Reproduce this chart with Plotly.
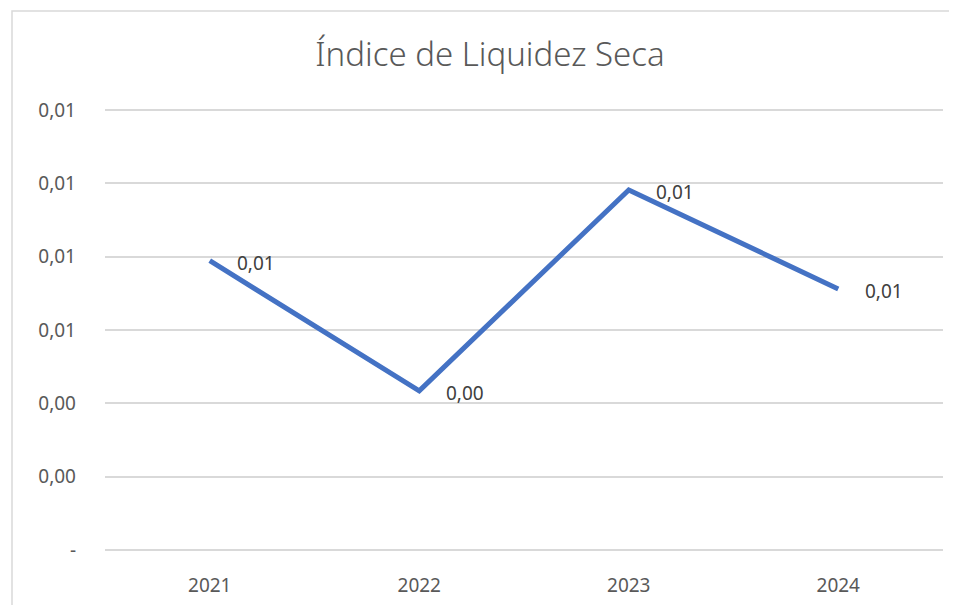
import plotly.graph_objects as go

years = ["2021", "2022", "2023", "2024"]
values = [0.00789, 0.00434, 0.00982, 0.00712]
value_labels = ["0,01", "0,00", "0,01", "0,01"]
tick_values = [0, 0.002, 0.004, 0.006, 0.008, 0.010, 0.012]
tick_labels = ["-", "0,00", "0,00", "0,01", "0,01", "0,01", "0,01"]

W, H = 957, 605
OFF = 8  # page body margin
PAD = 2  # extra px so edge gridlines are drawn
# target screen plot area: x 105..943, y 110..550
ml, mt = 105 - OFF, 110 - OFF - PAD
mr = W - (943 - OFF)
mb = H - (550 - OFF) - PAD
pw, ph = W - ml - mr, H - mt - mb
ymin, ymax = 0.0, 0.012
upp = (ymax - ymin) / (ph - 2 * PAD)

FONT = "Noto Sans"

fig = go.Figure()
fig.add_trace(go.Scatter(
    x=years, y=values, mode="lines",
    line=dict(color="#4472C4", width=5),
    hoverinfo="skip", showlegend=False,
))

for i, (yv, lab) in enumerate(zip(values, value_labels)):
    fig.add_annotation(x=i, y=yv, text=lab, showarrow=False,
                       xanchor="left", yanchor="middle", xshift=25, yshift=-2,
                       font=dict(family=FONT, size=19, color="#404040"))

# chart frame
sx0, sy0 = 12 - OFF, 11 - OFF
fig.add_shape(type="rect", xref="paper", yref="paper",
              x0=(sx0 - ml) / pw, x1=(W + 10 - ml) / pw,
              y0=-(mb + 10) / ph, y1=(H - mb - sy0) / ph,
              line=dict(color="#D9D9D9", width=1.5), fillcolor="rgba(0,0,0,0)", layer="below")

fig.update_layout(
    width=W, height=H,
    margin=dict(l=ml, r=mr, t=mt, b=mb),
    paper_bgcolor="white", plot_bgcolor="white",
    title=dict(text="Índice de Liquidez Seca", x=(490 - OFF) / W, xref="container", xanchor="center",
               y=1 - (54 - OFF) / H, yanchor="middle",
               font=dict(family=FONT, size=33, color="#595959", weight=300)),
    xaxis=dict(type="category", range=[-0.5, 3.5], showgrid=False, zeroline=False,
               showline=False, ticks="", ticklabelstandoff=18 + PAD,
               tickfont=dict(family=FONT, size=19, color="#595959"),
               fixedrange=True),
    yaxis=dict(range=[ymin - PAD * upp, ymax + PAD * upp], tickvals=tick_values, ticktext=tick_labels,
               showgrid=True, gridcolor="#D9D9D9", gridwidth=1.5, zeroline=False,
               showline=False, ticks="", ticklabelstandoff=28,
               tickfont=dict(family=FONT, size=19, color="#595959"), fixedrange=True),
)

fig.write_html("out.html")
